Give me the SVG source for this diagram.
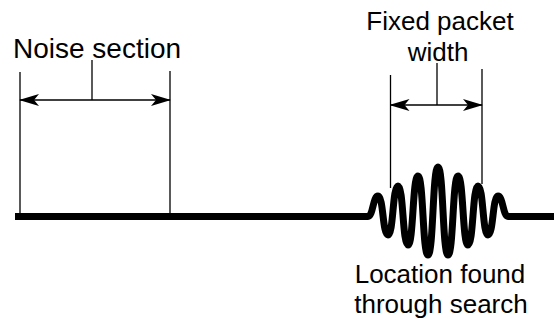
<svg xmlns="http://www.w3.org/2000/svg" width="554" height="325" viewBox="0 0 554 325">
<style>
.lbl{font-family:"Liberation Sans",Arial,sans-serif;font-size:26px;fill:#000;text-anchor:middle}
.big{font-size:28px}
.thin{stroke:#000;stroke-width:1.3;fill:none}
.dim{stroke:#000;stroke-width:1.3;fill:none;marker-start:url(#ah);marker-end:url(#ah)}
.wave{stroke:#000;stroke-width:7;fill:none;stroke-linejoin:round}
</style>
<defs>
<marker id="ah" viewBox="0 0 20 12" refX="19" refY="6" markerWidth="20" markerHeight="12" markerUnits="userSpaceOnUse" orient="auto-start-reverse">
<path d="M0,0 L20,6 L0,12 L5,6 Z" fill="#000"/>
</marker>
</defs>
<g id="signal">
<path class="wave" d="M15,216.5 H368 C373,216.5 373,196 378,196 C383.5,196 382.5,235 388,235 C393.5,235 392.5,186 398,186 C403.5,186 402.5,245 408,245 C413.5,245 412.5,176 418,176 C423.5,176 422.5,255 428,255 C433.5,255 432.5,167 438,167 C443.5,167 442.5,255 448,255 C453.5,255 452.5,176 458,176 C463.5,176 462.5,245 468,245 C473.5,245 472.5,186 478,186 C483.5,186 482.5,235 488,235 C493.5,235 492.5,196 498,196 C503,196 503,216.5 508,216.5 H554"/>
</g>
<g id="noise-section">
<line class="thin" x1="20" y1="72" x2="20" y2="213"/>
<line class="thin" x1="170" y1="71" x2="170" y2="213"/>
<line class="thin" x1="92" y1="60" x2="92" y2="100"/>
<text class="lbl big" x="97" y="58">Noise section</text>
</g>
<g id="packet-width">
<line class="thin" x1="390.5" y1="75" x2="390.5" y2="188"/>
<line class="thin" x1="482" y1="69" x2="482" y2="184"/>
<line class="thin" x1="437" y1="63" x2="437" y2="105"/>
<text class="lbl" x="440" y="30">Fixed packet</text>
<text class="lbl" x="438" y="61">width</text>
</g>
<g id="location">
<text class="lbl" x="440" y="283">Location found</text>
<text class="lbl" x="441" y="313">through search</text>
</g>
<g id="connectors">
<line class="dim" x1="20" y1="100" x2="170" y2="100"/>
<line class="dim" x1="390.5" y1="105" x2="482" y2="105"/>
</g>
</svg>
